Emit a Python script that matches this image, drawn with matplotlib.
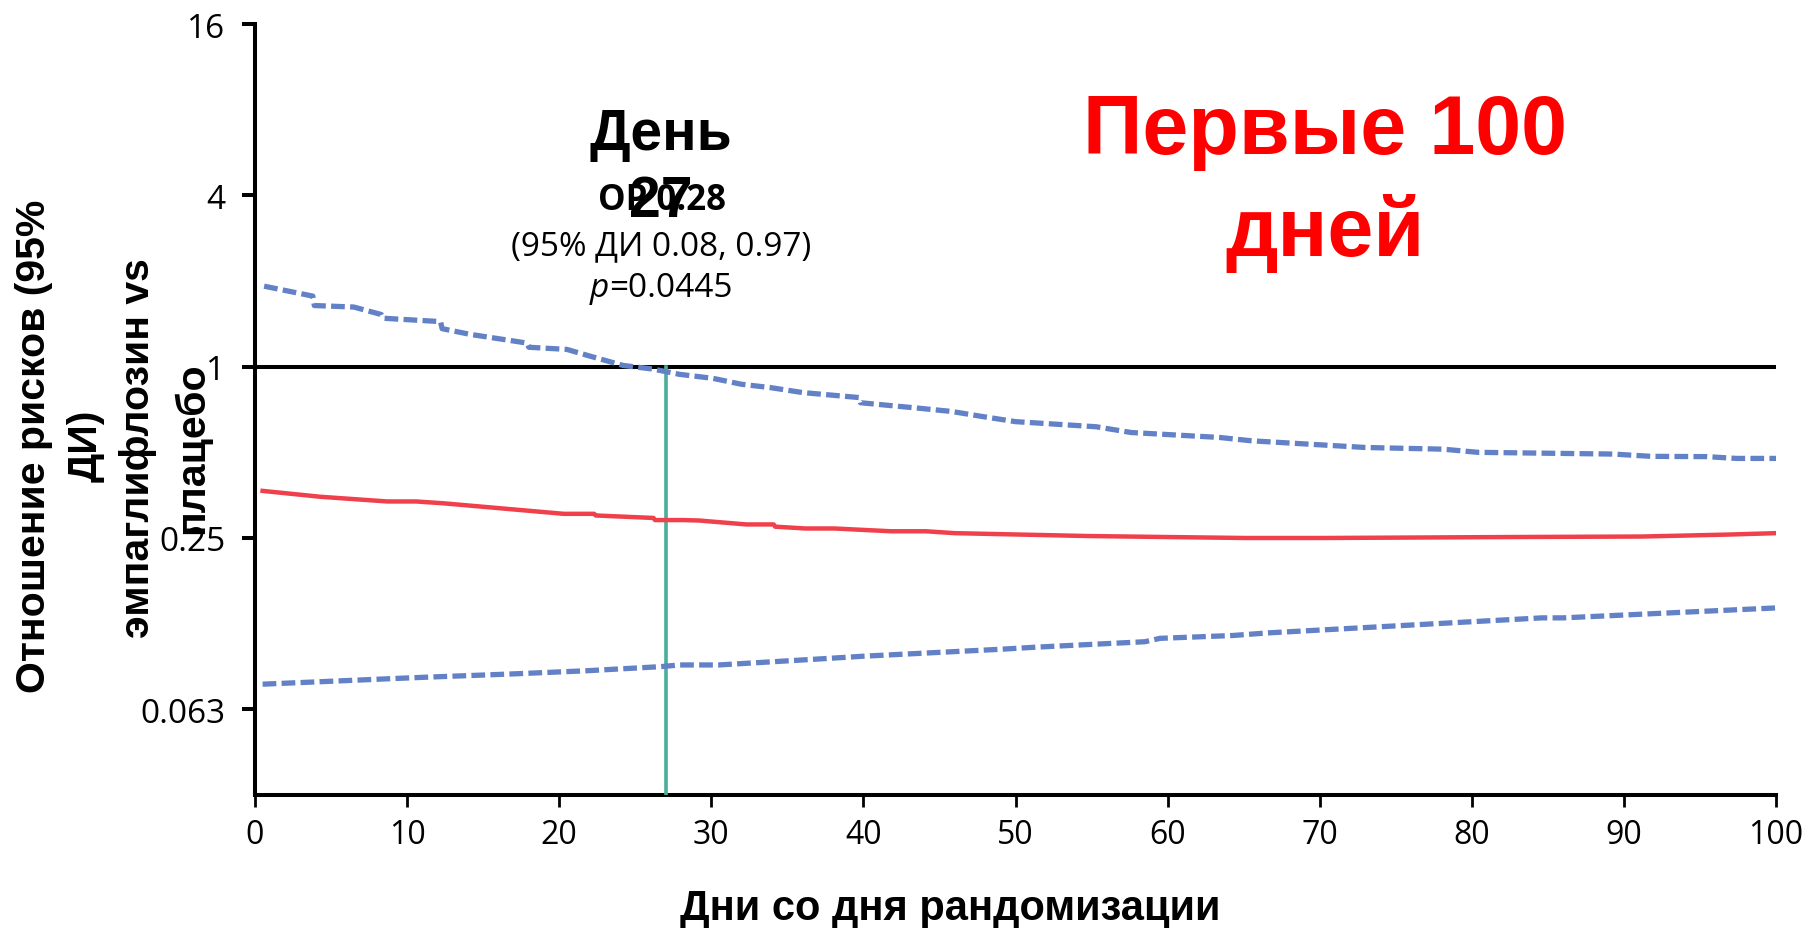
import matplotlib
matplotlib.use("Agg")
import matplotlib.pyplot as plt
from matplotlib.ticker import FixedLocator, FixedFormatter, NullLocator

# Hazard ratio (empagliflozin vs placebo) over the first 100 days
hr_days = [0.5, 4.3, 8.7, 10.6, 12.4, 20.3, 22.3, 22.4, 26.2, 26.3, 28.2, 29.2,
           32.3, 34.1, 34.2, 36.2, 38.1, 41.8, 44.1, 46.0, 54.8, 65.1, 70.2,
           82.8, 91.2, 96.8, 100.0]
hr_values = [0.366, 0.349, 0.336, 0.336, 0.331, 0.304, 0.304, 0.300, 0.294, 0.289,
             0.289, 0.288, 0.279, 0.279, 0.274, 0.270, 0.270, 0.264, 0.264, 0.260,
             0.254, 0.250, 0.250, 0.252, 0.253, 0.257, 0.260]

# Upper 95% confidence bound
upper_days = [0.6, 3.8, 3.9, 6.5, 8.3, 8.4, 12.2, 12.3, 14.1, 17.9, 18.0, 20.5,
              22.0, 24.2, 26.2, 27.9, 30.1, 32.0, 33.9, 36.0, 39.7, 39.8, 43.7,
              45.8, 47.9, 50.0, 55.3, 57.6, 63.4, 65.5, 73.0, 78.1, 80.4, 89.3,
              91.8, 95.4, 97.4, 100.0]
upper_values = [1.918, 1.77, 1.64, 1.62, 1.525, 1.48, 1.44, 1.36, 1.30, 1.21, 1.17,
                1.15, 1.09, 1.01, 0.98, 0.94, 0.91, 0.867, 0.844, 0.811, 0.779,
                0.747, 0.714, 0.696, 0.667, 0.641, 0.615, 0.587, 0.564, 0.549,
                0.520, 0.513, 0.500, 0.493, 0.484, 0.483, 0.476, 0.476]

# Lower 95% confidence bound
lower_days = [0.5, 8.7, 11.1, 17.1, 21.8, 26.7, 27.9, 30.5, 37.6, 39.9, 49.0,
              51.4, 58.5, 59.5, 64.3, 66.6, 84.6, 86.0, 100.0]
lower_values = [0.0766, 0.080, 0.081, 0.0833, 0.0854, 0.0883, 0.0895, 0.0895,
                0.0943, 0.096, 0.1016, 0.1034, 0.108, 0.111, 0.1136, 0.116,
                0.131, 0.131, 0.142]

y_ticks = [16, 4, 1, 0.25, 0.0625]
y_tick_labels = ["16", "4", "1", "0.25", "0.063"]
x_ticks = list(range(0, 101, 10))
x_tick_labels = [str(v) for v in x_ticks]

signif_day = 27

plt.rcParams['font.family'] = ['Open Sans', 'DejaVu Sans']

W, H = 1812, 929
fig = plt.figure(figsize=(W / 100, H / 100), dpi=100)
fig.patch.set_facecolor('white')


def fx(px):
    return px / W


def fy(py):
    return 1 - py / H


ax = fig.add_axes([fx(255), fy(796), fx(1776) - fx(255), fy(25) - fy(796)])
ax.set_yscale('log', base=2)
ax.set_ylim(1 / 32, 16)
ax.set_xlim(0, 100)

ax.axhline(1, color='black', lw=2.9, zorder=2)
ax.plot([signif_day, signif_day], [1 / 32, 1], color='#4AAE98', lw=2.6, zorder=3)
ax.plot(hr_days, hr_values, color='#EF404C', lw=3.2, zorder=4,
        solid_joinstyle='round')
dash = (0, (2.6, 1.0))
ax.plot(upper_days, upper_values, color='#6381C6', lw=3.8, linestyle=dash, zorder=4)
ax.plot(lower_days, lower_values, color='#6381C6', lw=3.8, linestyle=dash, zorder=4)

for side in ('top', 'right'):
    ax.spines[side].set_visible(False)
for side in ('left', 'bottom'):
    ax.spines[side].set_linewidth(2.9)
    ax.spines[side].set_color('black')

ax.yaxis.set_major_locator(FixedLocator(y_ticks))
ax.yaxis.set_major_formatter(FixedFormatter(y_tick_labels))
ax.yaxis.set_minor_locator(NullLocator())
ax.xaxis.set_major_locator(FixedLocator(x_ticks))
ax.xaxis.set_major_formatter(FixedFormatter(x_tick_labels))
ax.tick_params(axis='y', direction='out', length=9.4, width=2.9, pad=12,
               labelsize=24, colors='black')
ax.tick_params(axis='x', direction='out', length=8.6, width=2.0, pad=8,
               labelsize=23, colors='black')

# Axis titles
fig.text(fx(950), fy(920), 'Дни со дня рандомизации', ha='center', va='baseline',
         fontsize=30, fontweight='bold', family='Liberation Sans')
fig.text(fx(60), fy(446), 'Отношение рисков (95%\nДИ)', ha='center', va='center',
         rotation=90, multialignment='center', fontsize=29.5, fontweight='bold',
         family='Liberation Sans', linespacing=1.45)
fig.text(fx(165), fy(448), 'эмпаглифлозин vs\nплацебо', ha='center', va='center',
         rotation=90, multialignment='center', fontsize=29.5, fontweight='bold',
         family='Liberation Sans', linespacing=1.5)

# Significance annotation
fig.text(fx(661), fy(150), 'День', ha='center', va='baseline', fontsize=41,
         fontweight='bold', family='Liberation Sans')
fig.text(fx(662), fy(210), 'ОР 0.28', ha='center', va='baseline', fontsize=25,
         fontweight='bold')
fig.text(fx(661), fy(217), '27', ha='center', va='baseline', fontsize=41,
         fontweight='bold', family='Liberation Sans')
fig.text(fx(661), fy(255), '(95% ДИ 0.08, 0.97)', ha='center', va='baseline',
         fontsize=24)
fig.text(fx(609), fy(297), 'p', ha='right', va='baseline', fontsize=24,
         style='italic')
fig.text(fx(609), fy(297), '=0.0445', ha='left', va='baseline', fontsize=24)

# Period label
fig.text(fx(1325), fy(154), 'Первые 100', ha='center', va='baseline', fontsize=59.5,
         fontweight='bold', color='#FF0000', family='Liberation Sans')
fig.text(fx(1325), fy(256), 'дней', ha='center', va='baseline', fontsize=59.5,
         fontweight='bold', color='#FF0000', family='Liberation Sans')

fig.savefig('out.png', dpi=100, facecolor='white')
